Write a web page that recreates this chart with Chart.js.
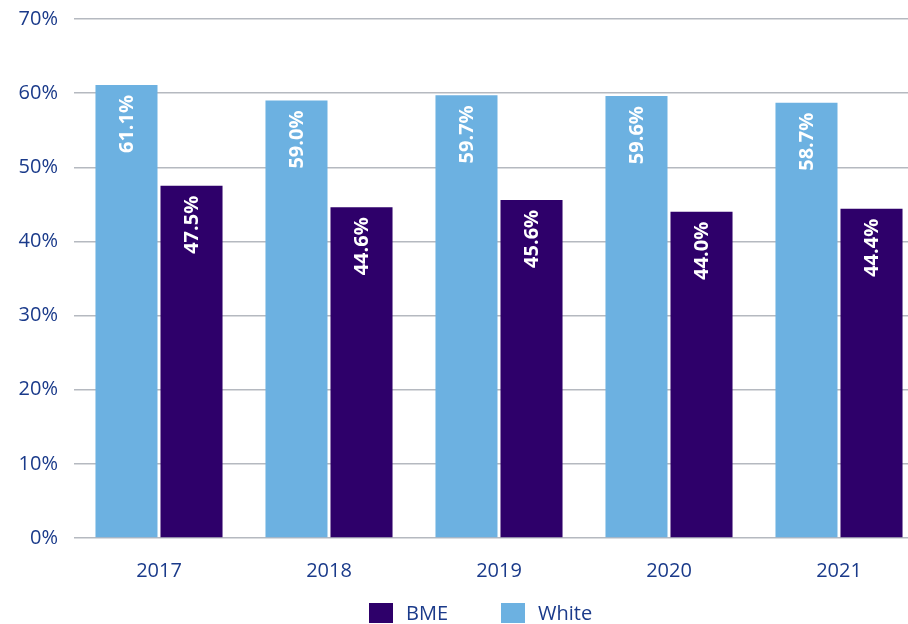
<!DOCTYPE html>
<html>
<head>
<meta charset="utf-8">
<script src="https://cdn.jsdelivr.net/npm/chart.js@4"></script>
<style>
  html,body{margin:0;padding:0;background:#fff;overflow:hidden;width:908px;height:624px;}
  #wrap{position:relative;width:964px;height:621px;margin-top:-9px;}
  #legend{position:absolute;left:369px;top:599px;display:flex;align-items:center;
    font-family:"Open Sans",sans-serif;font-size:20px;color:#1a3a8a;}
  #legend .item{display:flex;align-items:center;margin-right:53px;}
  #legend .box{width:24px;height:20px;margin-right:13px;}
</style>
</head>
<body>
<div id="wrap"><canvas id="chart" width="964" height="621"></canvas></div>
<div id="legend"></div>
<script>
// ==========================
// DATA
// ==========================
const years = ["2017","2018","2019","2020","2021"];
const whiteValues = [61.1, 59.0, 59.7, 59.6, 58.7];
const bmeValues = [47.5, 44.6, 45.6, 44.0, 44.4];
const yTicks = [0, 10, 20, 30, 40, 50, 60, 70];

const textColor = "#1a3a8a";
const fontFamily = "'Open Sans', sans-serif";

// ==========================
// VALUE LABELS (rotated, inside top of bar)
// ==========================
const barLabels = {
  id: "barLabels",
  afterDatasetsDraw(chart){
    const ctx = chart.ctx;
    chart.data.datasets.forEach((ds, i) => {
      chart.getDatasetMeta(i).data.forEach((bar, j) => {
        ctx.save();
        ctx.translate(bar.x, bar.y + 10);
        ctx.rotate(-Math.PI/2);
        ctx.fillStyle = "#fff";
        ctx.font = "bold 20px " + fontFamily;
        ctx.textAlign = "right";
        ctx.textBaseline = "middle";
        ctx.fillText(ds.data[j].toFixed(1) + "%", 0, 1);
        ctx.restore();
      });
    });
  }
};

// ==========================
// CHART
// ==========================
const chart = new Chart(document.getElementById("chart"), {
  type: "bar",
  data: {
    labels: years,
    datasets: [
      {label:"White", data:whiteValues, backgroundColor:"#6cb1e1"},
      {label:"BME", data:bmeValues, backgroundColor:"#2e006a"}
    ]
  },
  options: {
    responsive: false,
    animation: false,
    layout: {padding: {top: 10, right: 40, bottom: 8, left: 0}},
    datasets: {bar: {categoryPercentage: 0.765, barPercentage: 0.954}},
    plugins: {legend: {display: false}, tooltip: {enabled: false}},
    scales: {
      x: {
        grid: {display: false, drawTicks: false},
        border: {display: false},
        ticks: {color: textColor, padding: 21, font: {family: fontFamily, size: 20}}
      },
      y: {
        min: 0, max: 70,
        afterFit(s){ s.width = 74; },
        afterBuildTicks(s){ s.ticks = yTicks.map(v => ({value: v})); },
        grid: {color: "#b5b9c0", lineWidth: 1.5, drawTicks: false},
        border: {display: false},
        ticks: {
          color: textColor, padding: 16,
          font: {family: fontFamily, size: 20},
          callback: v => v + "%"
        }
      }
    }
  },
  plugins: [barLabels]
});

// ==========================
// HTML LEGEND (BME first)
// ==========================
const legend = document.getElementById("legend");
chart.data.datasets.slice().reverse().forEach(ds => {
  const item = document.createElement("div");
  item.className = "item";
  item.innerHTML = `<span class="box" style="background:${ds.backgroundColor}"></span><span>${ds.label}</span>`;
  legend.appendChild(item);
});
</script>
</body>
</html>
